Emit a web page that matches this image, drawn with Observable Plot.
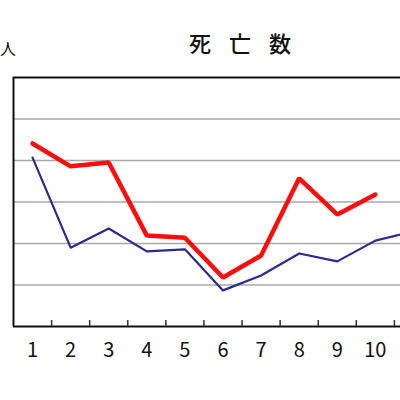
<!DOCTYPE html>
<html>
<head>
<meta charset="utf-8">
<script src="https://cdn.jsdelivr.net/npm/d3@7"></script>
<script src="https://cdn.jsdelivr.net/npm/@observablehq/plot@0.6"></script>
<style>
  html, body { margin: 0; padding: 0; background: #fff; overflow: hidden; width: 400px; height: 400px; }
  #wrap { position: relative; width: 400px; height: 400px; overflow: hidden; }
  #title { position: absolute; left: 189px; top: 31px; font-family: "Noto Sans CJK JP", sans-serif; font-size: 22px; font-weight: 500; letter-spacing: 18px; color: #111; white-space: nowrap; line-height: 1; }
  #unit { position: absolute; left: 0px; top: 40px; font-family: "Noto Sans CJK JP", sans-serif; font-size: 16px; color: #111; line-height: 1; }
  #chart { position: absolute; left: 0; top: 0; width: 440px; }
  #chart svg { max-width: none !important; }
</style>
</head>
<body>
<div id="wrap">
  <div id="chart"></div>
  <div id="title">死亡数</div>
  <div id="unit">人</div>
</div>
<script>
// categories (months)
const months = [1, 2, 3, 4, 5, 6, 7, 8, 9, 10, 11];
// visible tick labels
const tickLabels = ["1", "2", "3", "4", "5", "6", "7", "8", "9", "10"];
// series values (persons)
const redValues = [441, 386, 395, 219, 214, 118, 171, 357, 270, 318, null];
const blueValues = [407, 190, 236, 181, 186, 87, 123, 176, 157, 207, 229];
const yTicks = [100, 200, 300, 400, 500];

const red = months.map((m, i) => ({m, v: redValues[i]})).filter(d => d.v != null);
const blue = months.map((m, i) => ({m, v: blueValues[i]}));
const boundaries = months.map(m => m + 0.5);
const labelled = months.slice(0, tickLabels.length);

const chart = Plot.plot({
  width: 440,
  height: 400,
  marginTop: 77,
  marginBottom: 74,
  marginLeft: 13,
  marginRight: 8,
  style: {background: "transparent", overflow: "visible", maxWidth: "none"},
  x: {type: "linear", domain: [0.5, 11.5], label: null},
  y: {domain: [0, 600], axis: null},
  marks: [
    Plot.ruleY(yTicks, {stroke: "#a8a8a8", strokeWidth: 1.5}),
    Plot.ruleY([600], {stroke: "#111", strokeWidth: 2}),
    Plot.ruleX([0.5], {stroke: "#111", strokeWidth: 2}),
    Plot.ruleY([0], {stroke: "#111", strokeWidth: 2}),
    Plot.axisX(boundaries, {tickSize: -6, tickFormat: () => "", stroke: "#333", strokeWidth: 1.5, label: null}),
    Plot.axisX(labelled, {tickSize: 0, tickPadding: 16, tickFormat: d => tickLabels[labelled.indexOf(d)], fontSize: 20, fontFamily: "'Noto Sans CJK JP', sans-serif", fill: "#111", label: null}),
    Plot.line(blue, {x: "m", y: "v", stroke: "#2b2b90", strokeWidth: 2.2}),
    Plot.line(red, {x: "m", y: "v", stroke: "#ff0d0d", strokeWidth: 4.5, strokeLinejoin: "miter"})
  ]
});
document.getElementById("chart").appendChild(chart);
</script>
</body>
</html>
